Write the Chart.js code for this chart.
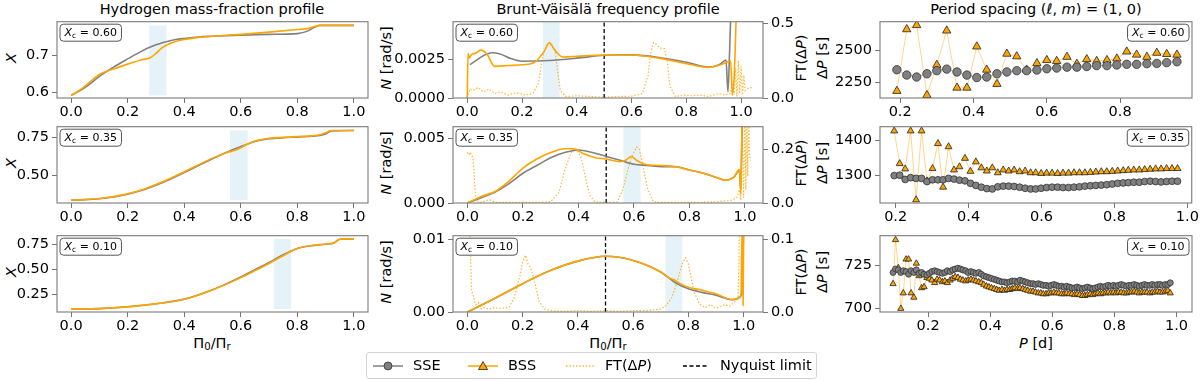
<!DOCTYPE html>
<html>
<head>
<meta charset="utf-8">
<title>Profiles and period spacing</title>
<script src="https://cdn.jsdelivr.net/npm/chart.js@4.4.1/dist/chart.umd.min.js"></script>
<style>
  body { margin: 0; background: #fff; }
  #fig { position: relative; width: 1200px; height: 381px; overflow: hidden; font-family: 'DejaVu Sans', sans-serif; color: #000; }
  #fig canvas { position: absolute; }
  .lbl { position: absolute; font-size: 14.5px; line-height: 17px; white-space: nowrap; }
  .ttl { transform: translateX(-50%); }
  .rot { transform: translate(-50%, -50%) rotate(-90deg); }
  .ctr { transform: translate(-50%, -50%); }
  sub { font-size: 70%; vertical-align: -0.25em; line-height: 0; }
  #legend { position: absolute; left: 366px; top: 352px; width: 449px; height: 25px; border: 1px solid #d5d5d5; border-radius: 3px; background: #fff; }
  .li { position: absolute; top: 0; height: 25px; line-height: 25px; font-size: 14.5px; white-space: nowrap; }
  #legend svg { position: absolute; top: 6.5px; }
</style>
</head>
<body>
<div id="fig">
  <div class="lbl ttl" style="left:212px;top:1px">Hydrogen mass-fraction profile</div>
  <div class="lbl ttl" style="left:608px;top:1px">Brunt-Väisälä frequency profile</div>
  <div class="lbl ttl" style="left:1036px;top:1px">Period spacing (<i>ℓ</i>, <i>m</i>) = (1, 0)</div>

  <div class="lbl rot" style="left:11px;top:58px"><i>X</i></div>
  <div class="lbl rot" style="left:11px;top:163px"><i>X</i></div>
  <div class="lbl rot" style="left:11px;top:272px"><i>X</i></div>
  <div class="lbl rot" style="left:386px;top:58px"><i>N</i> [rad/s]</div>
  <div class="lbl rot" style="left:386px;top:163px"><i>N</i> [rad/s]</div>
  <div class="lbl rot" style="left:386px;top:272px"><i>N</i> [rad/s]</div>
  <div class="lbl rot" style="left:801px;top:58px">FT(Δ<i>P</i>)</div>
  <div class="lbl rot" style="left:801px;top:163px">FT(Δ<i>P</i>)</div>
  <div class="lbl rot" style="left:801px;top:272px">FT(Δ<i>P</i>)</div>
  <div class="lbl rot" style="left:822px;top:58px">Δ<i>P</i> [s]</div>
  <div class="lbl rot" style="left:822px;top:163px">Δ<i>P</i> [s]</div>
  <div class="lbl rot" style="left:822px;top:272px">Δ<i>P</i> [s]</div>

  <div class="lbl ctr" style="left:212px;top:343px">Π<sub>0</sub>/Π<sub>r</sub></div>
  <div class="lbl ctr" style="left:608px;top:343px">Π<sub>0</sub>/Π<sub>r</sub></div>
  <div class="lbl ctr" style="left:1036px;top:343px"><i>P</i> [d]</div>

  <div id="legend">
    <svg width="32" height="12" style="left:5px"><line x1="1" y1="6" x2="31" y2="6" stroke="#808080" stroke-width="1.5"/><circle cx="16" cy="6" r="4" fill="#808080" stroke="#333" stroke-width="0.8"/></svg>
    <div class="li" style="left:46px">SSE</div>
    <svg width="32" height="12" style="left:100px"><line x1="1" y1="6" x2="31" y2="6" stroke="#FFA500" stroke-width="1.5"/><polygon points="16,1.5 20.5,9.5 11.5,9.5" fill="#FFA500" stroke="#222" stroke-width="0.8"/></svg>
    <div class="li" style="left:141px">BSS</div>
    <svg width="32" height="12" style="left:198px"><line x1="1" y1="6" x2="29" y2="6" stroke="#FFA500" stroke-opacity="0.8" stroke-width="1.4" stroke-dasharray="1.5 1.8"/></svg>
    <div class="li" style="left:238px">FT(Δ<i>P</i>)</div>
    <svg width="32" height="12" style="left:315px"><line x1="1" y1="6" x2="27" y2="6" stroke="#000" stroke-width="1.4" stroke-dasharray="4 2.5"/></svg>
    <div class="li" style="left:353px">Nyquist limit</div>
  </div>
</div>
<script>
// ---------------------------------------------------------------
// Data
var rowLabels = ['0.60', '0.35', '0.10'];
var bandLo = [0.276, 0.562, 0.717];
var bandHi = [0.337, 0.624, 0.778];
var nyquist = 0.5;

// hydrogen mass fraction X vs Pi0/Pir
var xH1 = [0, 0.03, 0.06, 0.1, 0.15, 0.2, 0.25, 0.28, 0.3, 0.32, 0.34, 0.37, 0.4, 0.45, 0.5, 0.6, 0.7, 0.8, 0.84, 0.86, 0.88, 0.9, 1.0];
var sseH1 = [0.592, 0.604, 0.619, 0.643, 0.668, 0.690, 0.711, 0.722, 0.728, 0.733, 0.737, 0.742, 0.745, 0.749, 0.751, 0.754, 0.756, 0.758, 0.766, 0.775, 0.780, 0.780, 0.780];
var bssH1 = [0.592, 0.606, 0.624, 0.648, 0.663, 0.676, 0.688, 0.693, 0.705, 0.719, 0.728, 0.737, 0.742, 0.748, 0.751, 0.756, 0.762, 0.769, 0.772, 0.777, 0.780, 0.780, 0.780];
var xH2 = [0, 0.05, 0.1, 0.15, 0.2, 0.25, 0.3, 0.35, 0.4, 0.45, 0.5, 0.55, 0.58, 0.6, 0.63, 0.66, 0.7, 0.75, 0.8, 0.85, 0.88, 0.9, 0.92, 1.0];
var sseH2 = [0.340, 0.342, 0.348, 0.360, 0.377, 0.403, 0.437, 0.476, 0.520, 0.565, 0.610, 0.652, 0.676, 0.690, 0.710, 0.728, 0.741, 0.748, 0.752, 0.757, 0.762, 0.772, 0.792, 0.795];
var bssH2 = [0.340, 0.343, 0.350, 0.362, 0.380, 0.407, 0.442, 0.481, 0.525, 0.570, 0.614, 0.650, 0.665, 0.682, 0.712, 0.731, 0.744, 0.750, 0.755, 0.760, 0.767, 0.780, 0.795, 0.795];
var xH3 = [0, 0.1, 0.2, 0.3, 0.4, 0.5, 0.55, 0.6, 0.65, 0.7, 0.75, 0.8, 0.85, 0.9, 0.93, 0.95, 1.0];
var sseH3 = [0.105, 0.110, 0.128, 0.158, 0.205, 0.300, 0.360, 0.427, 0.500, 0.572, 0.650, 0.712, 0.740, 0.755, 0.768, 0.805, 0.808];
var bssH3 = [0.105, 0.110, 0.127, 0.157, 0.203, 0.297, 0.355, 0.420, 0.490, 0.562, 0.640, 0.712, 0.742, 0.757, 0.770, 0.805, 0.808];

// Brunt-Vaisala frequency N [rad/s] vs Pi0/Pir
var xN1s = [0.01, 0.03, 0.06, 0.09, 0.12, 0.16, 0.2, 0.3, 0.4, 0.5, 0.55, 0.6, 0.7, 0.8, 0.88, 0.92, 0.945, 0.952, 0.958, 0.965];
var sseN1 = [0.00216, 0.00240, 0.00275, 0.00293, 0.00285, 0.00255, 0.00238, 0.00243, 0.00258, 0.00277, 0.00280, 0.00279, 0.00262, 0.00232, 0.00200, 0.00215, 0.00245, 0.00040, 0.00300, 0.00700];
var xN1b = [0, 0.003, 0.008, 0.015, 0.03, 0.05, 0.07, 0.1, 0.15, 0.2, 0.25, 0.28, 0.3, 0.32, 0.35, 0.4, 0.5, 0.6, 0.7, 0.8, 0.88, 0.93, 0.962, 0.968, 0.975, 0.985];
var bssN1 = [0, 0.0029, 0.0026, 0.0028, 0.0029, 0.0031, 0.0029, 0.00205, 0.0021, 0.00215, 0.00236, 0.0030, 0.00358, 0.0031, 0.00265, 0.0027, 0.00278, 0.00278, 0.00258, 0.00222, 0.00198, 0.00218, 0.0024, 0.0002, 0.0015, 0.0070];
var xN2s = [0, 0.05, 0.1, 0.15, 0.2, 0.25, 0.3, 0.35, 0.4, 0.45, 0.5, 0.55, 0.6, 0.65, 0.7, 0.75, 0.8, 0.85, 0.9, 0.93, 0.96, 0.98, 0.985, 0.99];
var sseN2 = [0, 0.0004, 0.00085, 0.0015, 0.0023, 0.0029, 0.0035, 0.0039, 0.0041, 0.0039, 0.0036, 0.0033, 0.0030, 0.0029, 0.0028, 0.0028, 0.00255, 0.0023, 0.00195, 0.00176, 0.0020, 0.0025, 0.0010, 0.0070];
var xN2b = [0, 0.05, 0.1, 0.15, 0.2, 0.25, 0.3, 0.35, 0.38, 0.42, 0.46, 0.5, 0.55, 0.57, 0.59, 0.61, 0.64, 0.7, 0.75, 0.8, 0.85, 0.9, 0.93, 0.96, 0.98, 0.985, 0.99];
var bssN2 = [0, 0.0005, 0.0009, 0.0017, 0.0027, 0.0034, 0.0039, 0.0042, 0.0042, 0.0038, 0.0035, 0.0034, 0.0032, 0.0033, 0.0036, 0.0033, 0.0030, 0.0029, 0.0028, 0.00255, 0.0023, 0.00195, 0.00176, 0.0020, 0.0026, 0.0007, 0.0070];
var xN3s = [0, 0.1, 0.2, 0.3, 0.4, 0.5, 0.6, 0.7, 0.75, 0.8, 0.85, 0.9, 0.96, 0.98, 0.99, 0.995, 1.0];
var sseN3 = [0, 0.0019, 0.0039, 0.0057, 0.0070, 0.00767, 0.0071, 0.0055, 0.0041, 0.0032, 0.0027, 0.0023, 0.0017, 0.0019, 0.0022, 0.0030, 0.0120];
var xN3b = [0, 0.1, 0.2, 0.3, 0.4, 0.5, 0.6, 0.7, 0.73, 0.75, 0.77, 0.8, 0.85, 0.9, 0.96, 0.98, 0.99, 0.995, 0.998, 1.0];
var bssN3 = [0, 0.0019, 0.0039, 0.0057, 0.0070, 0.00767, 0.0071, 0.0055, 0.0047, 0.0044, 0.0039, 0.0034, 0.0030, 0.0025, 0.0017, 0.0019, 0.0023, 0.0120, 0.0009, 0.0120];

// Fourier transform of the period spacing, FT(dP)
var xFT1 = [0, 0.01, 0.02, 0.04, 0.06, 0.08, 0.1, 0.12, 0.15, 0.18, 0.21, 0.24, 0.26, 0.27, 0.28, 0.29, 0.3, 0.31, 0.32, 0.33, 0.34, 0.36, 0.4, 0.45, 0.5, 0.55, 0.6, 0.64, 0.66, 0.67, 0.68, 0.69, 0.7, 0.71, 0.72, 0.73, 0.74, 0.76, 0.79, 0.82, 0.85, 0.88, 0.9, 0.92, 0.94, 0.96, 0.97, 0.975, 0.98, 0.985, 0.99, 0.995, 1.0, 1.005, 1.01, 1.015, 1.02, 1.03, 1.04];
var ft1 = [0.00, 0.06, 0.05, 0.07, 0.04, 0.06, 0.03, 0.04, 0.02, 0.035, 0.02, 0.03, 0.10, 0.22, 0.30, 0.35, 0.37, 0.34, 0.33, 0.18, 0.05, 0.01, 0.015, 0.01, 0.005, 0.01, 0.012, 0.03, 0.15, 0.30, 0.37, 0.36, 0.34, 0.33, 0.33, 0.25, 0.08, 0.01, 0.02, 0.015, 0.02, 0.01, 0.02, 0.03, 0.02, 0.03, 0.10, 0.02, 0.20, 0.01, 0.25, 0.03, 0.21, 0.02, 0.15, 0.05, 0.06, 0.07, 0.07];
var xFT2 = [0, 0.005, 0.01, 0.02, 0.03, 0.05, 0.08, 0.1, 0.15, 0.2, 0.25, 0.3, 0.33, 0.35, 0.37, 0.38, 0.39, 0.4, 0.41, 0.42, 0.44, 0.46, 0.5, 0.54, 0.56, 0.58, 0.59, 0.6, 0.61, 0.62, 0.63, 0.65, 0.67, 0.7, 0.75, 0.8, 0.85, 0.9, 0.95, 0.97, 0.98, 0.985, 0.99, 0.995, 1.0, 1.003, 1.006, 1.01, 1.013, 1.016, 1.02];
var ft2 = [0.19, 0.18, 0.19, 0.17, 0.01, 0.003, 0.012, 0.003, 0.002, 0.003, 0.002, 0.005, 0.04, 0.12, 0.18, 0.20, 0.205, 0.19, 0.17, 0.12, 0.03, 0.004, 0.002, 0.004, 0.05, 0.13, 0.17, 0.19, 0.21, 0.20, 0.15, 0.05, 0.005, 0.002, 0.003, 0.002, 0.003, 0.005, 0.01, 0.02, 0.05, 0.01, 0.35, 0.02, 0.35, 0.05, 0.35, 0.10, 0.35, 0.19, 0.16];
var xFT3 = [0, 0.005, 0.01, 0.015, 0.02, 0.03, 0.04, 0.05, 0.06, 0.08, 0.1, 0.12, 0.15, 0.17, 0.19, 0.2, 0.21, 0.22, 0.23, 0.24, 0.26, 0.28, 0.3, 0.35, 0.4, 0.45, 0.5, 0.55, 0.6, 0.65, 0.7, 0.72, 0.74, 0.76, 0.77, 0.78, 0.79, 0.8, 0.82, 0.84, 0.86, 0.88, 0.9, 0.93, 0.95, 0.97, 0.98, 0.99, 1.0];
var ft3 = [0.2, 0.15, 0.1, 0.03, 0.024, 0.01, 0.013, 0.004, 0.006, 0.004, 0.006, 0.005, 0.006, 0.02, 0.05, 0.069, 0.078, 0.066, 0.06, 0.047, 0.014, 0.004, 0.002, 0.001, 0.002, 0.001, 0.002, 0.001, 0.002, 0.002, 0.004, 0.009, 0.02, 0.042, 0.057, 0.068, 0.0745, 0.066, 0.028, 0.011, 0.006, 0.01, 0.005, 0.01, 0.008, 0.015, 0.02, 0.2, 0.2];

// period spacing dP [s] vs period P [d]
var P1 = [0.191, 0.218, 0.245, 0.273, 0.300, 0.327, 0.355, 0.382, 0.409, 0.436, 0.464, 0.491, 0.518, 0.545, 0.573, 0.600, 0.627, 0.655, 0.682, 0.709, 0.736, 0.764, 0.791, 0.818, 0.845, 0.873, 0.900, 0.927, 0.955];
var sseP1 = [2350, 2309, 2294, 2319, 2343, 2355, 2333, 2309, 2290, 2294, 2319, 2333, 2343, 2343, 2348, 2358, 2363, 2370, 2370, 2375, 2382, 2382, 2387, 2392, 2392, 2397, 2399, 2405, 2412];
var bssP1 = [2186, 2662, 2694, 2154, 2387, 2652, 2211, 2211, 2529, 2350, 2240, 2473, 2453, 2350, 2400, 2424, 2417, 2449, 2395, 2431, 2417, 2424, 2436, 2490, 2466, 2449, 2480, 2471, 2466];
var P2 = [0.196, 0.211, 0.226, 0.241, 0.256, 0.271, 0.286, 0.301, 0.316, 0.330,
  0.345, 0.360, 0.375, 0.390, 0.405, 0.420, 0.435, 0.450, 0.465, 0.480,
  0.495, 0.510, 0.525, 0.540, 0.555, 0.570, 0.584, 0.599, 0.614, 0.629,
  0.644, 0.659, 0.674, 0.689, 0.704, 0.719, 0.734, 0.749, 0.764, 0.779,
  0.794, 0.809, 0.824, 0.838, 0.853, 0.868, 0.883, 0.898, 0.913, 0.928,
  0.943, 0.958, 0.973];
var sseP2 = [1300, 1301, 1289, 1294, 1292, 1292, 1283, 1288, 1288, 1288,
  1292, 1290, 1287, 1285, 1278, 1272, 1267, 1263, 1262, 1268,
  1270, 1270, 1269, 1267, 1264, 1262, 1262, 1264, 1266, 1267,
  1267, 1266, 1266, 1267, 1268, 1270, 1271, 1272, 1273, 1274,
  1276, 1278, 1279, 1280, 1281, 1281, 1283, 1284, 1283, 1282,
  1283, 1284, 1284];
var bssP2 = [1427, 1334, 1319, 1427, 1231, 1427, 1285, 1320, 1391, 1267,
  1382, 1316, 1325, 1349, 1312, 1339, 1322, 1313, 1322, 1308,
  1316, 1313, 1316, 1311, 1313, 1308, 1308, 1306, 1307, 1307,
  1306, 1307, 1307, 1308, 1308, 1308, 1309, 1310, 1311, 1311,
  1312, 1313, 1314, 1315, 1316, 1316, 1317, 1318, 1319, 1319,
  1320, 1320, 1320];
var P3 = [0.087, 0.095, 0.104, 0.112, 0.120, 0.129, 0.137, 0.145, 0.154, 0.162,
  0.171, 0.179, 0.187, 0.196, 0.204, 0.212, 0.221, 0.229, 0.237, 0.246,
  0.254, 0.262, 0.271, 0.279, 0.287, 0.296, 0.304, 0.312, 0.321, 0.329,
  0.338, 0.346, 0.354, 0.363, 0.371, 0.379, 0.388, 0.396, 0.404, 0.413,
  0.421, 0.429, 0.438, 0.446, 0.454, 0.463, 0.471, 0.479, 0.488, 0.496,
  0.505, 0.513, 0.521, 0.530, 0.538, 0.546, 0.555, 0.563, 0.571, 0.580,
  0.588, 0.596, 0.605, 0.613, 0.621, 0.630, 0.638, 0.646, 0.655, 0.663,
  0.672, 0.680, 0.688, 0.697, 0.705, 0.713, 0.722, 0.730, 0.738, 0.747,
  0.755, 0.763, 0.772, 0.780, 0.788, 0.797, 0.805, 0.813, 0.822, 0.830,
  0.839, 0.847, 0.855, 0.864, 0.872, 0.880, 0.889, 0.897, 0.905, 0.914,
  0.922, 0.930, 0.939, 0.947, 0.955, 0.964, 0.972, 0.980];
var sseP3 = [721.0, 723.0, 722.5, 721.0, 722.0, 721.5, 720.0, 722.0, 721.0, 722.5, 720.5, 721.0, 720.0, 719.5,
  720.5, 721.5, 722.0, 721.5, 721.0, 720.5, 721.0, 722.0, 721.5, 722.5, 723.0, 723.5, 723.0, 722.5,
  722.0, 721.0, 721.5, 721.0, 720.5, 721.0, 720.0, 719.0, 718.5, 718.0, 717.5, 717.0, 716.5, 716.0,
  715.5, 715.5, 715.0, 715.5, 716.0, 716.0, 715.5, 716.5, 716.0, 715.5, 715.0, 714.5, 714.5, 714.0,
  714.5, 714.0, 713.5, 713.5, 713.0, 713.5, 714.0, 713.5, 713.0, 713.0, 712.5, 713.0, 712.5, 712.0,
  712.0, 712.5, 712.0, 711.5, 712.0, 712.5, 712.0, 711.5, 712.0, 712.5, 713.0, 712.5, 713.0, 713.5,
  713.0, 713.5, 713.0, 713.5, 714.0, 713.5, 713.0, 713.5, 713.5, 714.0, 713.5, 713.0, 713.5, 714.0,
  713.5, 713.5, 714.0, 713.5, 714.0, 714.0, 713.5, 714.0, 714.0, 715.0];
var bssP3 = [714.4, 740.0, 723.7, 700.0, 709.0, 728.7, 728.7, 709.0, 706.5, 726.3, 719.0, 712.0, 712.6, 718.0,
  717.5, 716.5, 715.0, 717.0, 716.5, 715.5, 716.0, 715.0, 716.5, 717.5, 718.5, 718.0, 717.0, 716.5,
  716.0, 716.5, 717.0, 716.5, 716.0, 715.5, 715.0, 714.0, 713.0, 712.5, 712.0, 711.5, 711.0, 710.5,
  711.0, 710.5, 711.0, 711.0, 711.5, 712.0, 711.5, 712.0, 711.5, 711.0, 710.5, 710.0, 710.0, 709.5,
  709.0, 709.0, 708.5, 708.5, 709.0, 709.0, 709.5, 709.0, 709.0, 708.5, 708.5, 709.0, 708.5, 708.5,
  708.0, 708.5, 708.0, 707.5, 707.5, 708.0, 708.5, 708.0, 708.5, 709.0, 708.5, 709.0, 709.0, 709.5,
  709.0, 709.5, 709.0, 709.5, 709.5, 709.0, 709.0, 709.5, 709.5, 710.0, 709.5, 709.0, 709.5, 709.5,
  709.5, 709.0, 709.5, 709.5, 710.0, 709.5, 709.5, 710.0, 710.5, 709.0];

// tick labels
var ticksPi = [0, 0.2, 0.4, 0.6, 0.8, 1.0];
var ticksH = [[0.6, 0.7], [0.5, 0.75], [0.25, 0.5, 0.75]];
var ticksN = [[0, 0.0025], [0, 0.005], [0, 0.01]];
var ticksFT = [[0, 0.5], [0, 0.2], [0, 0.1]];
var ticksP = [[0.2, 0.4, 0.6, 0.8], [0.2, 0.4, 0.6, 0.8, 1.0], [0.2, 0.4, 0.6, 0.8, 1.0]];
var ticksD = [[2250, 2500], [1300, 1400], [700, 725]];

// ---------------------------------------------------------------
var ORANGE = '#FFA500', GREY = '#808080';
var FONT = "'DejaVu Sans', sans-serif";
var plotTop = [18, 123, 232];

var xH = [xH1, xH2, xH3], sseH = [sseH1, sseH2, sseH3], bssH = [bssH1, bssH2, bssH3];
var xNs = [xN1s, xN2s, xN3s], sseN = [sseN1, sseN2, sseN3];
var xNb = [xN1b, xN2b, xN3b], bssN = [bssN1, bssN2, bssN3];
var xFT = [xFT1, xFT2, xFT3], ft = [ft1, ft2, ft3];
var Ps = [P1, P2, P3], sseP = [sseP1, sseP2, sseP3], bssP = [bssP1, bssP2, bssP3];

function pts(xs, ys) {
    return xs.map(function (x, i) { return { x: x, y: ys[i] }; });
}

function xAxis(min, max, ticks, dec) {
    return {
        type: 'linear', min: min, max: max,
        afterBuildTicks: function (s) { s.ticks = ticks.map(function (v) { return { value: v }; }); },
        afterFit: function (s) { s.height = 24; },
        grid: { drawOnChartArea: false, drawTicks: true, tickLength: 5, tickWidth: 1, tickColor: '#777' },
        border: { display: false },
        ticks: { autoSkip: false, maxRotation: 0, padding: 1, color: '#000', font: { family: FONT, size: 14.5 },
            callback: function (v) { return Number(v).toFixed(dec); } }
    };
}

function yAxis(min, max, ticks, dec, pos, width) {
    return {
        type: 'linear', position: pos, min: min, max: max,
        afterBuildTicks: function (s) { s.ticks = ticks.map(function (v) { return { value: v }; }); },
        afterFit: function (s) { s.width = width; },
        grid: { drawOnChartArea: false, drawTicks: true, tickLength: 5, tickWidth: 1, tickColor: '#777' },
        border: { display: false },
        ticks: { autoSkip: false, padding: 3, color: '#000', font: { family: FONT, size: 14.5 },
            callback: function (v) { return Number(v).toFixed(dec); } }
    };
}

function baseOptions(scales, padRight) {
    return {
        responsive: false, animation: false, devicePixelRatio: 1, events: [],
        layout: { padding: { top: 8, right: padRight, left: 0, bottom: 0 } },
        scales: scales,
        plugins: { legend: { display: false }, tooltip: { enabled: false } }
    };
}

// shaded band, frame and X_c box
function decor(opt) {
    return {
        id: 'decor',
        beforeDatasetsDraw: function (chart) {
            if (opt.lo == null) return;
            var a = chart.chartArea, ctx = chart.ctx, xs = chart.scales.x, ys = chart.scales.y;
            var x0 = xs.getPixelForValue(opt.lo), x1 = xs.getPixelForValue(opt.hi);
            var y0 = opt.yHi == null ? a.top : ys.getPixelForValue(opt.yHi);
            var y1 = opt.yLo == null ? a.bottom : ys.getPixelForValue(opt.yLo);
            ctx.save();
            ctx.fillStyle = 'rgba(173,216,230,0.32)';
            ctx.fillRect(x0, y0, x1 - x0, y1 - y0);
            ctx.restore();
        },
        afterDatasetsDraw: function (chart) {
            var a = chart.chartArea, ctx = chart.ctx;
            ctx.save();
            ctx.strokeStyle = '#7a7a7a';
            ctx.lineWidth = 1.1;
            ctx.strokeRect(a.left, a.top, a.right - a.left, a.bottom - a.top);

            var fs = 11;
            ctx.font = 'italic ' + fs + 'px ' + FONT;
            var wX = ctx.measureText('X').width;
            ctx.font = (fs * 0.7) + 'px ' + FONT;
            var wc = ctx.measureText('c').width;
            ctx.font = fs + 'px ' + FONT;
            var wr = ctx.measureText(' = ' + opt.xc).width;
            var w = wX + wc + wr + 9, h = 17;
            var bx = opt.side === 'left' ? a.left + 3 : a.right - 3 - w;
            var by = a.top + 2.5, r = 3.5;
            ctx.beginPath();
            ctx.moveTo(bx + r, by);
            ctx.arcTo(bx + w, by, bx + w, by + h, r);
            ctx.arcTo(bx + w, by + h, bx, by + h, r);
            ctx.arcTo(bx, by + h, bx, by, r);
            ctx.arcTo(bx, by, bx + w, by, r);
            ctx.closePath();
            ctx.fillStyle = '#fff';
            ctx.fill();
            ctx.strokeStyle = '#555';
            ctx.lineWidth = 1;
            ctx.stroke();
            var tx = bx + 4.5, ty = by + h / 2 + 0.5;
            ctx.fillStyle = '#000';
            ctx.textBaseline = 'middle';
            ctx.font = 'italic ' + fs + 'px ' + FONT;
            ctx.fillText('X', tx, ty);
            tx += wX;
            ctx.font = (fs * 0.7) + 'px ' + FONT;
            ctx.fillText('c', tx, ty + 3);
            tx += wc;
            ctx.font = fs + 'px ' + FONT;
            ctx.fillText(' = ' + opt.xc, tx, ty);
            ctx.restore();
        }
    };
}

function makeChart(left, top, width, height, config) {
    var c = document.createElement('canvas');
    c.width = width;
    c.height = height;
    c.style.left = left + 'px';
    c.style.top = top + 'px';
    c.style.width = width + 'px';
    c.style.height = height + 'px';
    document.getElementById('fig').insertBefore(c, document.getElementById('legend'));
    return new Chart(c.getContext('2d'), config);
}

// ---------------------------------------------------------------
// Column 1: hydrogen mass-fraction profile
var hMin = [0.585, 0.32, 0.076], hMax = [0.79, 0.82, 0.84], hDec = [1, 2, 2];
for (var r = 0; r < 3; r++) {
    makeChart(0, plotTop[r] - 8, 375, 112, {
        type: 'scatter',
        data: { datasets: [
            { data: pts(xH[r], bssH[r]), showLine: true, borderColor: ORANGE, borderWidth: 1.6, pointRadius: 0, cubicInterpolationMode: 'monotone' },
            { data: pts(xH[r], sseH[r]), showLine: true, borderColor: GREY, borderWidth: 1.6, pointRadius: 0, cubicInterpolationMode: 'monotone' }
        ] },
        options: baseOptions({ x: xAxis(-0.05, 1.05, ticksPi, 1), y: yAxis(hMin[r], hMax[r], ticksH[r], hDec[r], 'left', 57) }, 7),
        plugins: [decor({ lo: bandLo[r], hi: bandHi[r], yLo: Math.min.apply(null, sseH[r]), yHi: Math.max.apply(null, sseH[r]), xc: rowLabels[r], side: 'left' })]
    });
}

// Column 2: Brunt-Vaisala frequency profile with FT(dP) on the right axis
var nMax = [0.00494, 0.0059, 0.0105], ftMax = [0.51, 0.286, 0.105], xMax2 = [1.08, 1.065, 1.07], nDec = [4, 3, 2];
for (var r = 0; r < 3; r++) {
    makeChart(375, plotTop[r] - 8, 437, 112, {
        type: 'scatter',
        data: { datasets: [
            { data: pts(xNb[r], bssN[r]), yAxisID: 'y', showLine: true, borderColor: ORANGE, borderWidth: 1.6, pointRadius: 0, cubicInterpolationMode: 'monotone' },
            { data: pts(xNs[r], sseN[r]), yAxisID: 'y', showLine: true, borderColor: GREY, borderWidth: 1.6, pointRadius: 0, cubicInterpolationMode: 'monotone' },
            { data: [{ x: nyquist, y: 0 }, { x: nyquist, y: 1 }], yAxisID: 'y', showLine: true, borderColor: '#000', borderWidth: 1.3, borderDash: [4, 2.5], pointRadius: 0 },
            { data: pts(xFT[r], ft[r]), yAxisID: 'y2', showLine: true, borderColor: 'rgba(255,165,0,0.8)', borderWidth: 1.2, borderDash: [1.5, 1.8], pointRadius: 0 }
        ] },
        options: baseOptions({
            x: xAxis(-0.052, xMax2[r], ticksPi, 1),
            y: yAxis(0, nMax[r], ticksN[r], nDec[r], 'left', 78),
            y2: yAxis(0, ftMax[r], ticksFT[r], 1, 'right', 49)
        }, 0),
        plugins: [decor({ lo: bandLo[r], hi: bandHi[r], yLo: null, yHi: null, xc: rowLabels[r], side: 'left' })]
    });
}

// Column 3: period spacing patterns
var pMin = [0.145, 0.157, 0.045], pMax = [0.996, 1.012, 1.05];
var dMin = [2132, 1222, 698], dMax = [2721, 1439, 742.4];
var mk = [4.2, 3.4, 3];
for (var r = 0; r < 3; r++) {
    makeChart(812, plotTop[r] - 8, 388, 112, {
        type: 'scatter',
        data: { datasets: [
            { data: pts(Ps[r], sseP[r]), showLine: true, borderColor: 'rgba(128,128,128,0.45)', borderWidth: 1,
              pointStyle: 'circle', pointRadius: mk[r], pointBackgroundColor: GREY, pointBorderColor: '#333', pointBorderWidth: 0.8 },
            { data: pts(Ps[r], bssP[r]), showLine: true, borderColor: 'rgba(255,165,0,0.45)', borderWidth: 1,
              pointStyle: 'triangle', pointRadius: mk[r] + 0.6, pointBackgroundColor: ORANGE, pointBorderColor: '#222', pointBorderWidth: 0.8 }
        ] },
        options: baseOptions({ x: xAxis(pMin[r], pMax[r], ticksP[r], 1), y: yAxis(dMin[r], dMax[r], ticksD[r], 0, 'left', 68) }, 8),
        plugins: [decor({ lo: null, xc: rowLabels[r], side: 'right' })]
    });
}
</script>
</body>
</html>
